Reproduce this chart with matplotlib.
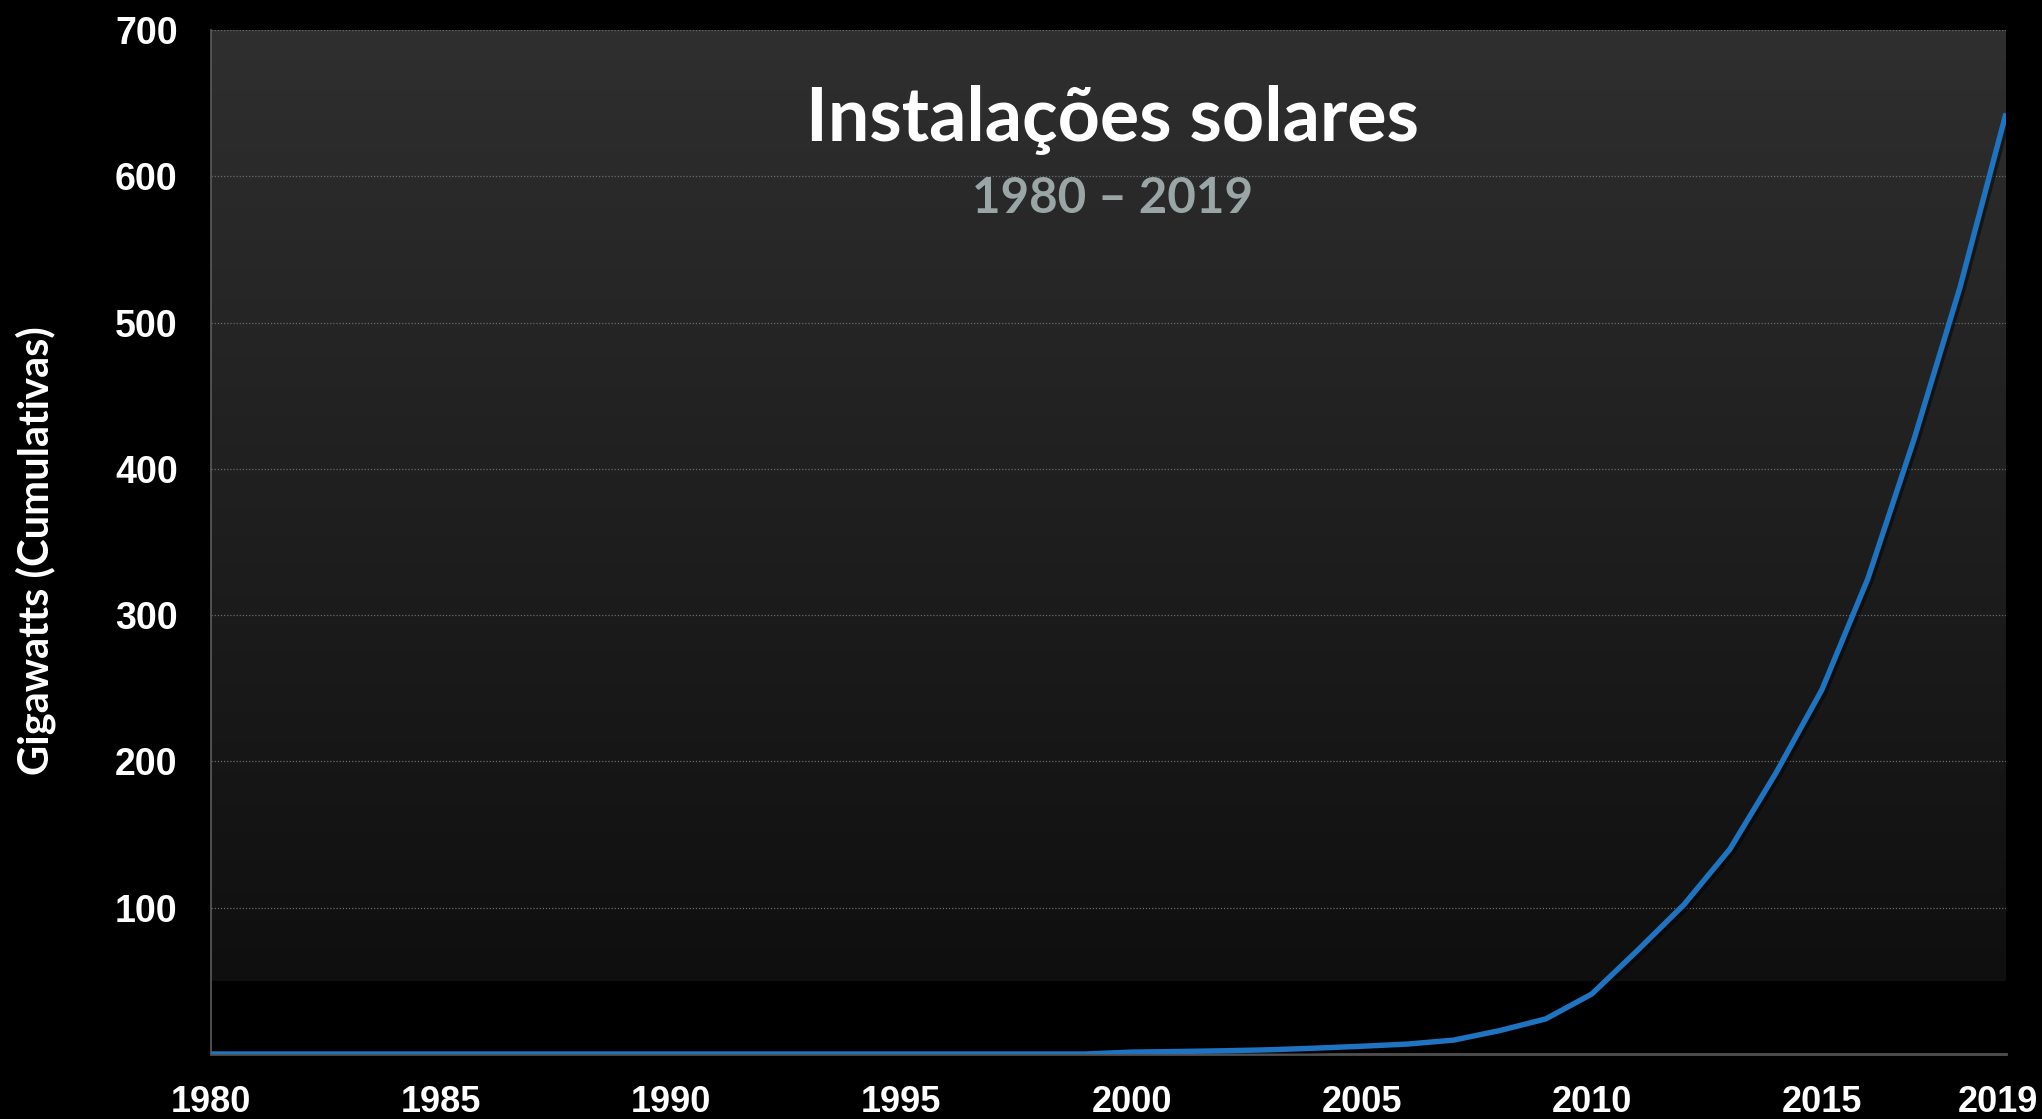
""" Instalações solares acumuladas, 1980-2019. """

import numpy as np
import matplotlib
matplotlib.use("Agg")
import matplotlib.pyplot as plt
import matplotlib.patheffects as pe
import matplotlib.transforms as mtransforms
from matplotlib.colors import LinearSegmentedColormap

years = list(range(1980, 2020))
gigawatts = [0.0] * 20 + [
    1.3, 1.7, 2.2, 2.9, 4.0, 5.3, 6.8, 9.5, 16.0, 24.0,
    41.0, 71.0, 102.0, 140.0, 192.0, 249.0, 325.0, 420.0, 524.0, 643.0,
]
xticks = [1980, 1985, 1990, 1995, 2000, 2005, 2010, 2015, 2019]
yticks = [100, 200, 300, 400, 500, 600, 700]

title = "Instalações solares"
subtitle = "1980 – 2019"
ylabel = "Gigawatts (Cumulativas)"


def main(output_file):
    fig = plt.figure(figsize=(20.42, 11.19), dpi=100, facecolor="black")
    ax = fig.add_axes([211 / 2042, 1 - 1054 / 1119, (2006 - 211) / 2042, (1054 - 30) / 1119])
    ax.set_facecolor("black")

    # background gradient (dark grey at top, almost black near the bottom)
    cmap = LinearSegmentedColormap.from_list("bg", ["#0f0f0f", "#2f2f2f"])
    grad = np.linspace(0, 1, 256).reshape(-1, 1)
    ax.imshow(grad, cmap=cmap, aspect="auto", origin="lower",
              extent=[1980, 2019, 50, 700], zorder=0, interpolation="bicubic")

    ax.plot(years, gigawatts, color="#1f74c1", lw=3.9, zorder=3, solid_capstyle="butt",
            path_effects=[pe.SimpleLineShadow(offset=(2, -2), alpha=0.45), pe.Normal()])

    ax.set_xlim(1980, 2019)
    ax.set_ylim(0, 700)
    ax.set_xticks(xticks)
    ax.set_yticks(yticks)
    ax.set_xticklabels([str(t) for t in xticks])
    ax.set_yticklabels([str(t) for t in yticks])
    ax.tick_params(axis="both", length=0, colors="white", labelsize=27)
    ax.tick_params(axis="x", labelsize=26, pad=22)
    ax.tick_params(axis="y", pad=24)
    for lab in ax.get_xticklabels() + ax.get_yticklabels():
        lab.set_fontfamily("Liberation Sans")
        lab.set_fontweight("bold")
    # last year label sits a little inside the right edge
    last = ax.get_xticklabels()[-1]
    last.set_transform(last.get_transform() + mtransforms.ScaledTranslation(-8 / 100, 0, fig.dpi_scale_trans))

    ax.grid(axis="y", color="#6a6a6a", linestyle=(0, (1, 1.5)), linewidth=0.9, zorder=1)
    ax.grid(axis="x", visible=False)
    ax.set_axisbelow(True)

    for side in ["top", "right"]:
        ax.spines[side].set_visible(False)
    ax.spines["left"].set_color("#5c5c5c")
    ax.spines["left"].set_linewidth(1.2)
    ax.spines["bottom"].set_color("#505050")
    ax.spines["bottom"].set_linewidth(2)

    fig.text(36 / 2042, 1 - 551 / 1119, ylabel, rotation=90, color="white",
             fontsize=30, fontfamily="Lato", fontweight="bold", ha="center", va="center")

    fig.text(1112 / 2042, 1 - 141 / 1119, title, color="white", fontsize=53,
             fontfamily="Lato", fontweight="bold", ha="center", va="baseline")
    fig.text(1112 / 2042, 1 - 213 / 1119, subtitle, color="#9aa5a5", fontsize=35.5,
             fontfamily="Lato", fontweight="bold", ha="center", va="baseline")

    plt.savefig(output_file, dpi=100, facecolor="black")


if __name__ == "__main__":
    main("out.png")
